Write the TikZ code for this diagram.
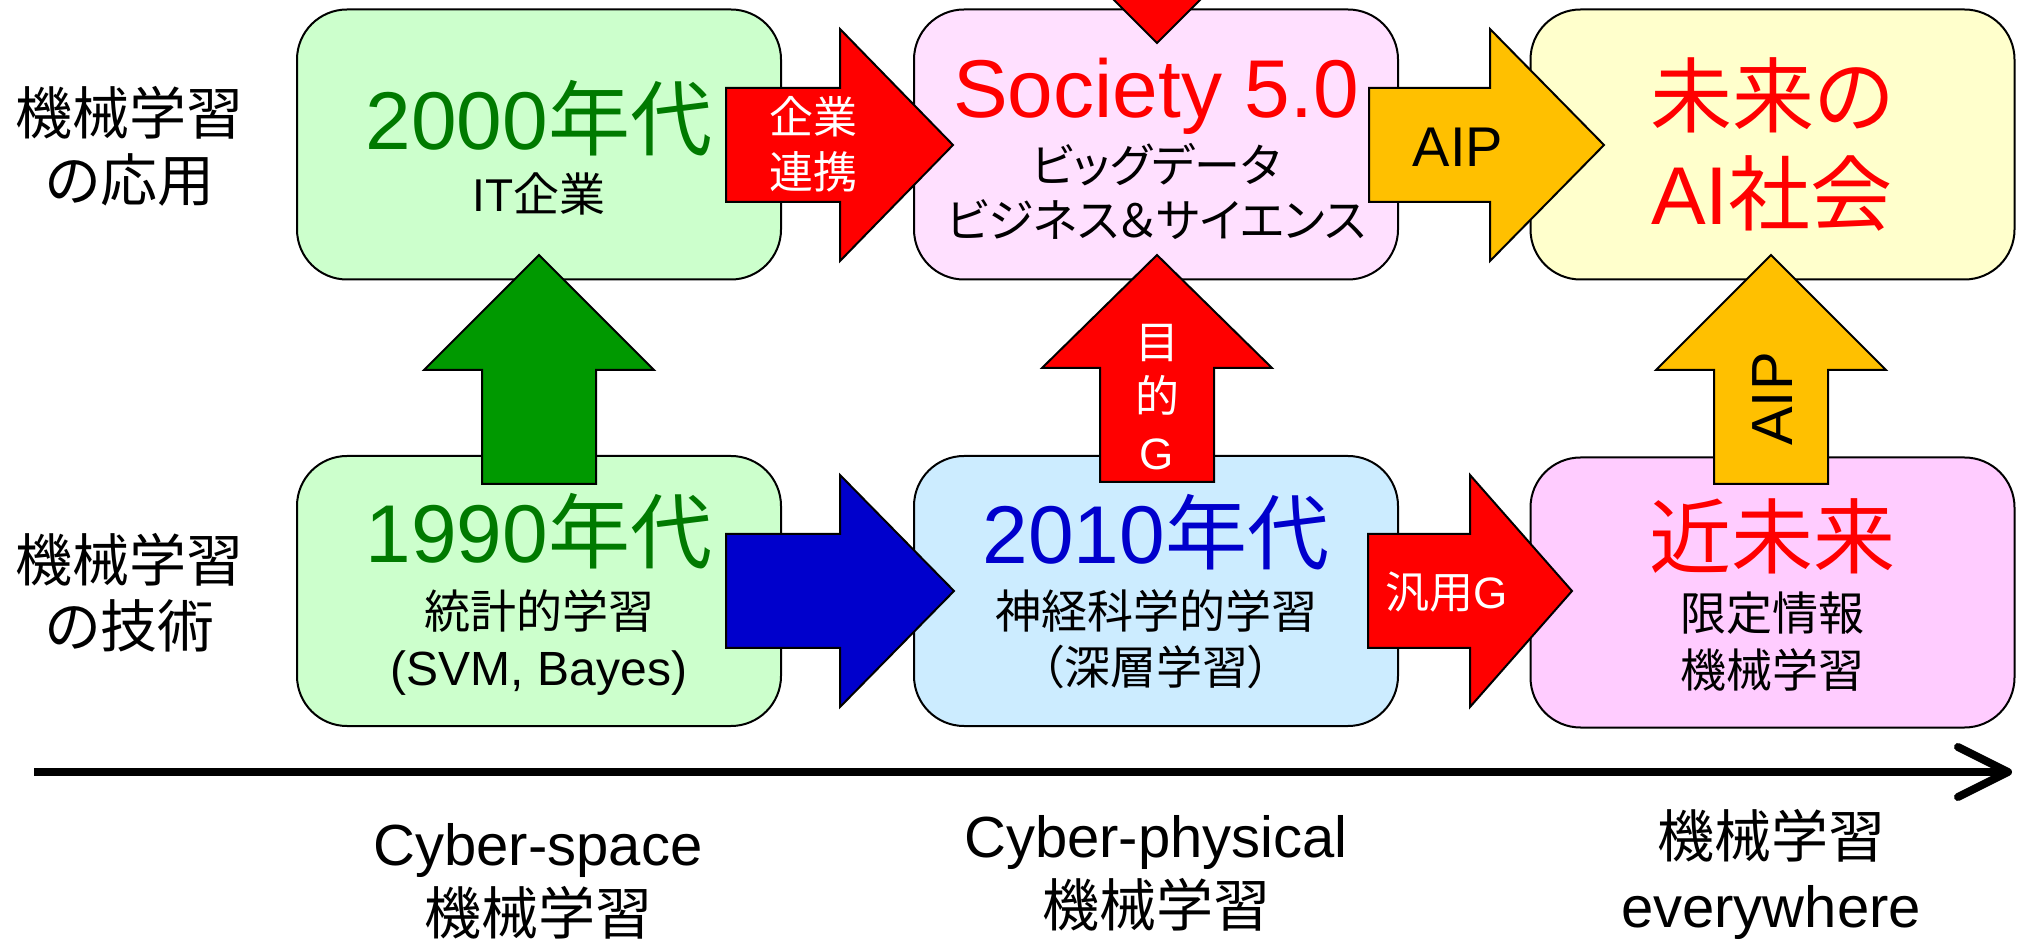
\documentclass[tikz,border=0pt]{standalone}
\usepackage{fontspec}
\setmainfont{Liberation Sans}
\newfontfamily\jpfont[RawFeature=+palt]{Noto Sans CJK JP}
\newcommand\J[1]{{\jpfont #1}}
\newcommand\fsz[1]{\fontsize{#1pt}{#1pt}\selectfont}
\definecolor{bxgreen}{HTML}{CCFFCC}
\definecolor{bxpink}{HTML}{FFE0FF}
\definecolor{bxyellow}{HTML}{FFFFCC}
\definecolor{bxblue}{HTML}{CCECFF}
\definecolor{bxmag}{HTML}{FFCCFF}
\definecolor{txgreen}{HTML}{007A00}
\definecolor{txblue}{HTML}{0000CC}
\definecolor{argreen}{HTML}{009900}
\definecolor{arblue}{HTML}{0000CC}
\definecolor{arorange}{HTML}{FFC000}
\definecolor{arred}{HTML}{FF0000}
% right block arrow: shaft left x, head base x, tip x, centre y, style
\newcommand\BlockR[5]{\draw[#5] (#1,{#4-57}) -- (#2,{#4-57}) -- (#2,{#4-116}) -- (#3,#4) -- (#2,{#4+116}) -- (#2,{#4+57}) -- (#1,{#4+57}) -- cycle;}
% up block arrow: centre x, shaft bottom y, head base y, tip y, style
\newcommand\BlockU[5]{\draw[#5] ({#1-57},#2) -- ({#1-57},#3) -- ({#1-115},#3) -- (#1,#4) -- ({#1+115},#3) -- ({#1+57},#3) -- ({#1+57},#2) -- cycle;}
\begin{document}
\begin{tikzpicture}[x=0.5pt,y=-0.5pt,
  box/.style={draw=black, line width=1pt, rounded corners=25pt, minimum width=242pt, minimum height=135pt, inner sep=0pt},
  blk/.style={draw=black, line width=1pt, line join=miter},
  t/.style={inner sep=0pt, anchor=base, align=center}]
\useasboundingbox (0,0) rectangle (2019,940);

% boxes
\node[box, fill=bxgreen]  (A) at (539,144.5) {};
\node[box, fill=bxpink]   (B) at (1156,144.5) {};
\node[box, fill=bxyellow] (C) at (1772.5,144.5) {};
\node[box, fill=bxgreen]  (D) at (539,591) {};
\node[box, fill=bxblue]   (E) at (1156,591) {};
\node[box, fill=bxmag]    (F) at (1772.5,592.5) {};

% block arrows
\BlockR{726}{840}{953}{145}{blk, fill=arred}
\BlockR{1369}{1490}{1604}{145}{blk, fill=arorange}
\BlockR{726}{840}{954}{591}{blk, fill=arblue}
\BlockR{1368}{1470}{1572}{591}{blk, fill=arred}
\BlockU{539}{484}{370}{255}{blk, fill=argreen}
\BlockU{1157}{482}{368}{255}{blk, fill=arred}
\BlockU{1771}{484}{370}{255}{blk, fill=arorange}
\begin{scope}
  \clip (0,0) rectangle (2019,940);
  \draw[blk, fill=arred] (1100,-250) -- (1100,-72) -- (1042,-72) -- (1157,43) -- (1272,-72) -- (1214,-72) -- (1214,-250) -- cycle;
\end{scope}

% left labels
\node[t] (L1a) at (130,135) {\fsz{28.5}\J{機械学習}};
\node[t] (L1b) at (130,202) {\fsz{28.5}\J{の応用}};
\node[t] (L2a) at (130,582) {\fsz{28.5}\J{機械学習}};
\node[t] (L2b) at (130,648) {\fsz{28.5}\J{の技術}};

% box texts
\node[t, text=txgreen] (A1) at (539,150) {\fsz{41}2000\J{年代}};
\node[t] (A2) at (539,212) {\fsz{23}IT\J{企業}};
\node[t, text=arred] (B1) at (1156,118) {\fsz{41}Society 5.0};
\node[t] (B2) at (1156,183) {\fsz{23}\J{ビッグデータ}};
\node[t] (B3) at (1156,238) {\fsz{23}\J{ビジネス＆サイエンス}};
\node[t, text=arred] (C1) at (1772,127) {\fsz{41}\J{未来の}};
\node[t, text=arred] (C2) at (1772,225) {\fsz{41}AI\J{社会}};
\node[t, text=txgreen] (D1) at (539,563) {\fsz{41}1990\J{年代}};
\node[t] (D2) at (539,629) {\fsz{23}\J{統計的学習}};
\node[t] (D3) at (539,685) {\fsz{24}(SVM, Bayes)};
\node[t, text=txblue] (E1) at (1156,564) {\fsz{41}2010\J{年代}};
\node[t] (E2) at (1156,629) {\fsz{23}\J{神経科学的学習}};
\node[t] (E3) at (1156,684) {\fsz{23}\J{（深層学習）}};
\node[t, text=arred] (F1) at (1772,568) {\fsz{41}\J{近未来}};
\node[t] (F2) at (1772,631) {\fsz{23}\J{限定情報}};
\node[t] (F3) at (1772,688) {\fsz{23}\J{機械学習}};

% arrow labels
\node[t, text=white] (K1) at (813,134) {\fsz{22}\J{企業}};
\node[t, text=white] (K2) at (813,189) {\fsz{22}\J{連携}};
\node[t] (P1) at (1458,167) {\fsz{28}AIP};
\node[t, text=white] (G1) at (1157,359) {\fsz{22}\J{目}};
\node[t, text=white] (G2) at (1157,413) {\fsz{22}\J{的}};
\node[t, text=white] (G3) at (1157,470) {\fsz{22}G};
\node[t, text=white] (H1) at (1447,609) {\fsz{22}\J{汎用}G};
\node[inner sep=0pt, anchor=center, rotate=90] (P2) at (1773,399) {\fsz{29}AIP};

% time axis
\coordinate (axL) at (34,772);
\coordinate (axR) at (2008,772);
\coordinate (axU) at (1958,747);
\coordinate (axD) at (1958,797);
\draw[line width=4pt] (axL) -- (axR);
\draw[line width=4pt, line cap=round, line join=round] (axU) -- (axR) -- (axD);

% bottom labels
\node[t] (S1) at (538,865) {\fsz{29}Cyber-space};
\node[t] (S2) at (538,934) {\fsz{28.5}\J{機械学習}};
\node[t] (S3) at (1156,857) {\fsz{29}Cyber-physical};
\node[t] (S4) at (1156,926) {\fsz{28.5}\J{機械学習}};
\node[t] (S5) at (1771,857) {\fsz{28.5}\J{機械学習}};
\node[t] (S6) at (1771,927) {\fsz{29}everywhere};
\end{tikzpicture}
\end{document}
